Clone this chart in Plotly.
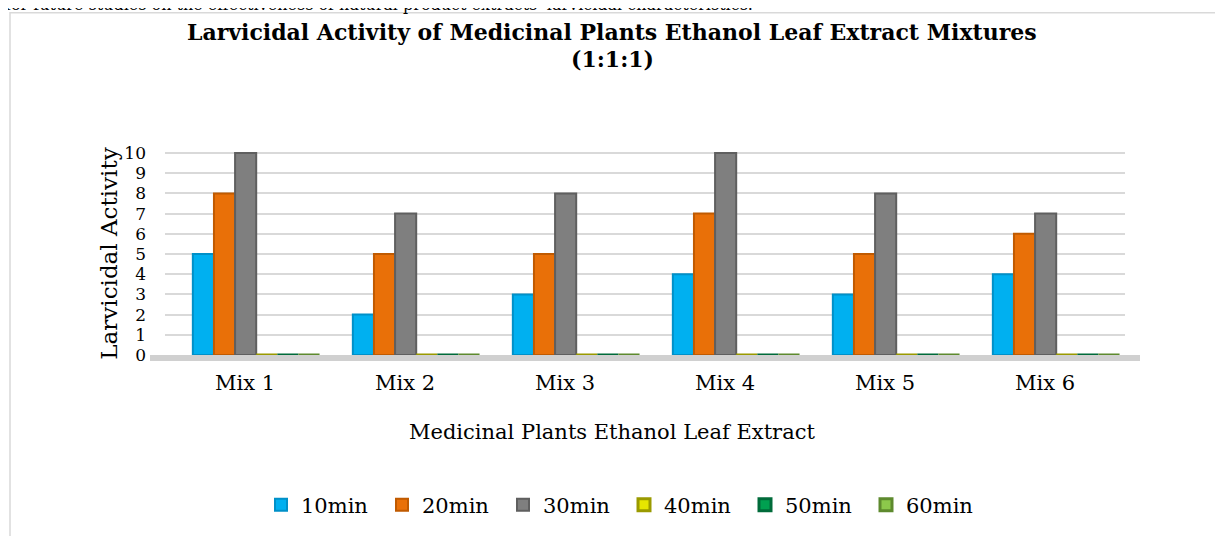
import plotly.graph_objects as go

categories = ["Mix 1", "Mix 2", "Mix 3", "Mix 4", "Mix 5", "Mix 6"]
series_names = ["10min", "20min", "30min", "40min", "50min", "60min"]
v10 = [5, 2, 3, 4, 3, 4]
v20 = [8, 5, 5, 7, 5, 6]
v30 = [10, 7, 8, 10, 8, 7]
v40 = [0, 0, 0, 0, 0, 0]
v50 = [0, 0, 0, 0, 0, 0]
v60 = [0, 0, 0, 0, 0, 0]
y_ticks = [0, 1, 2, 3, 4, 5, 6, 7, 8, 9, 10]

series_values = [v10, v20, v30, v40, v50, v60]
colors = ["#00B0F0", "#E97008", "#7F7F7F", "#E6E600", "#00A050", "#8CC84B"]
line_colors = ["#0090C8", "#C05A00", "#5F5F5F", "#9A9A00", "#006B3A", "#5E8A2E"]

FONT = "DejaVu Serif"
OFF = 8  # page body margin
W, H = 1223 - OFF, 536 - OFF
# target screen positions of plot area
X0, X1, Y0, Y1 = 165, 1125, 152, 356
L, R, T, B = X0 - OFF, W - (X1 - OFF), Y0 - OFF, H - (Y1 - OFF)
pw, ph = W - L - R, H - T - B

BW = 0.132      # bar width in category units
SHIFT = 0.07    # group shift (3D look of original)


def px(x):
    return (x - OFF - L) / pw


def py(y):
    return (H - B - (y - OFF)) / ph


fig = go.Figure()
n = len(series_names)
for i, (name, vals, c, lc) in enumerate(zip(series_names, series_values, colors, line_colors)):
    fig.add_trace(go.Bar(
        x=categories, y=vals, name=name,
        width=BW, offset=-n / 2 * BW + i * BW + SHIFT,
        marker=dict(color=c, line=dict(color=lc, width=2 if i < 3 else 3)),
    ))

fig.update_layout(
    width=W, height=H,
    margin=dict(l=L, r=R, t=T, b=B),
    paper_bgcolor="white", plot_bgcolor="white",
    barmode="overlay",
    font=dict(family=FONT, color="#000000"),
    showlegend=True,
    legend=dict(orientation="h", x=px(624), xanchor="center", y=py(505), yanchor="middle",
                font=dict(size=21, family=FONT), itemwidth=30, entrywidth=76, traceorder="normal"),
    xaxis=dict(
        showgrid=False, showline=False, zeroline=False,
        tickfont=dict(size=21, family=FONT), ticks="",
        ticklabelstandoff=13,
    ),
    yaxis=dict(
        range=[0, 10.05], tickvals=y_ticks, showgrid=True, gridcolor="#D9D9D9", gridwidth=2,
        zeroline=False, showline=False, ticks="",
        tickfont=dict(size=17, family=FONT), ticklabelstandoff=18,
        title=dict(text="Larvicidal Activity", font=dict(size=23, family=FONT), standoff=0),
    ),
    annotations=[
        dict(text="<b>Larvicidal Activity of Medicinal Plants Ethanol Leaf Extract Mixtures</b>",
             xref="paper", yref="paper", x=px(612), y=py(31), xanchor="center", yanchor="middle",
             showarrow=False, font=dict(size=22, family=FONT)),
        dict(text="<b>(1:1:1)</b>",
             xref="paper", yref="paper", x=px(612), y=py(59), xanchor="center", yanchor="middle",
             showarrow=False, font=dict(size=22, family=FONT)),
        dict(text="Medicinal Plants Ethanol Leaf Extract",
             xref="paper", yref="paper", x=px(612), y=py(433), xanchor="center", yanchor="middle",
             showarrow=False, font=dict(size=21, family=FONT)),
        dict(text="for future studies on the effectiveness of natural product extracts' larvicidal characteristics.",
             xref="paper", yref="paper", x=px(3), y=py(4), xanchor="left", yanchor="middle",
             showarrow=False, font=dict(size=16, family=FONT)),
    ],
    shapes=[
        dict(type="rect", xref="paper", yref="paper", x0=px(10), x1=px(1240), y0=py(560), y1=py(12),
             line=dict(color="#D9D9D9", width=1.5), fillcolor="rgba(0,0,0,0)", layer="below"),
        dict(type="rect", xref="paper", yref="paper", x0=px(150), x1=px(1140), y0=py(Y1 + 6), y1=py(Y1),
             line=dict(width=0), fillcolor="#D0D0D0", layer="below"),
    ],
)

fig.write_html("out.html")
